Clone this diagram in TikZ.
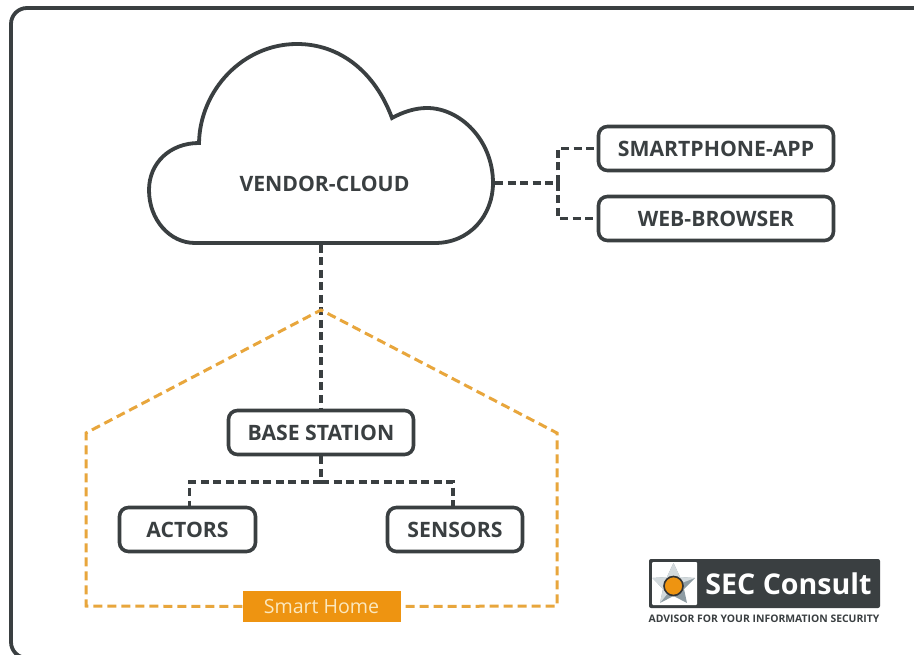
\documentclass[tikz,border=0pt]{standalone}
\usepackage{fontspec}
\setmainfont{Open Sans}
\definecolor{darkline}{HTML}{3A3F41}
\definecolor{homeorange}{HTML}{EE9411}
\definecolor{homeline}{HTML}{E8A63C}
\definecolor{hometext}{HTML}{FBE8BE}
\definecolor{starlight}{HTML}{D3DADD}
\definecolor{stardark}{HTML}{8E9CA3}
\tikzset{
	box/.style={draw=darkline, line width=3.6pt, rounded corners=9pt, fill=white, text=darkline, font=\fontsize{21.2}{21}\selectfont\bfseries, inner sep=0pt},
	link/.style={draw=darkline, line width=3.3pt, dash pattern=on 8pt off 4.5pt},
	housepath/.style={draw=homeline, line width=3pt, dash pattern=on 9pt off 5pt}
}
\begin{document}
\begin{tikzpicture}[x=1pt, y=-1pt]
	\useasboundingbox (0, 0) rectangle (914, 655);
	\fill[white] (0, 0) rectangle (914, 655);
	\draw[darkline, line width=3.8pt, rounded corners=16pt] (11, 8) rectangle (935, 658);
	% cloud
	\draw[darkline, line width=3.8pt, fill=white] (195, 243) -- (435, 243)
		.. controls (470, 243) and (493, 215) .. (493, 183)
		.. controls (493, 140) and (460, 108) .. (427, 108)
		.. controls (415, 108) and (403, 112) .. (392, 118)
		.. controls (375, 72) and (340, 44) .. (297, 44)
		.. controls (243, 44) and (200, 90) .. (199, 143)
		.. controls (170, 143) and (149, 163) .. (149, 190)
		.. controls (149, 220) and (170, 243) .. (195, 243) -- cycle;
	\node[text=darkline, font=\fontsize{21.2}{21}\selectfont\bfseries] (cloud) at (324.5, 184) {VENDOR-CLOUD};
	% boxes
	\node[box, minimum width=235pt, minimum height=44pt] (app) at (716, 148.5) {SMARTPHONE-APP};
	\node[box, minimum width=235pt, minimum height=44pt] (web) at (716, 218.5) {WEB-BROWSER};
	\node[box, minimum width=185pt, minimum height=44pt] (base) at (321, 432.5) {BASE STATION};
	\node[box, minimum width=136pt, minimum height=44pt] (actors) at (187.5, 529.5) {ACTORS};
	\node[box, minimum width=135pt, minimum height=44pt] (sensors) at (455, 529.5) {SENSORS};
	% links
	\coordinate (cloudright) at (495, 183);
	\coordinate (cloudbottom) at (321, 245);
	\coordinate (split) at (558, 183);
	\coordinate (fork) at (321, 482);
	\coordinate (actorstop) at (189.5, 507);
	\coordinate (sensorstop) at (453, 507);
	\draw[link] (cloudright) -- (split);
	\draw[link] (split) |- (app.west);
	\draw[link] (split) |- (web.west);
	\draw[link] (cloudbottom) -- (base.north);
	\draw[link] (base.south) -- (fork);
	\draw[link] (fork) -| (actorstop);
	\draw[link] (fork) -| (sensorstop);
	% house
	\node[fill=homeorange, text=hometext, minimum width=158pt, minimum height=31pt, inner sep=0pt, font=\fontsize{19.6}{20}\selectfont] (home) at (321.5, 606.5) {Smart Home};
	\coordinate (roof) at (321, 310);
	\coordinate (wallleft) at (86, 433);
	\coordinate (wallright) at (557, 433);
	\coordinate (floorleft) at (86, 606);
	\coordinate (floorright) at (557, 606);
	\draw[housepath] (home.west) -- (floorleft) -- (wallleft) -- (roof) -- (wallright) -- (floorright) -- (home.east);
	% logo
	\fill[darkline, rounded corners=2pt] (649, 559) rectangle (880, 608);
	\fill[white, rounded corners=1pt] (652, 562) rectangle (697, 605);
	\fill[stardark] (673.5, 563) -- (680, 577) -- (695, 578) -- (684, 589) -- (687, 603) -- (673.5, 596) -- (660, 603) -- (663, 589) -- (652.5, 578) -- (667, 577) -- cycle;
	\fill[starlight] (673.5, 563) -- (680, 577) -- (695, 578) -- (673.5, 586) -- (660, 603) -- (663, 589) -- (652.5, 578) -- (667, 577) -- cycle;
	\draw[black!80, line width=1.6pt, fill=homeorange] (673.5, 586) circle (9.5pt);
	\node[text=white, font=\fontsize{28.6}{28}\selectfont\bfseries, inner sep=0pt] (brand) at (788.5, 583.5) {SEC Consult};
	\node[text=darkline, font=\fontsize{10.4}{10}\selectfont\bfseries, inner sep=0pt] (claim) at (764, 619) {ADVISOR FOR YOUR INFORMATION SECURITY};
\end{tikzpicture}
\end{document}
